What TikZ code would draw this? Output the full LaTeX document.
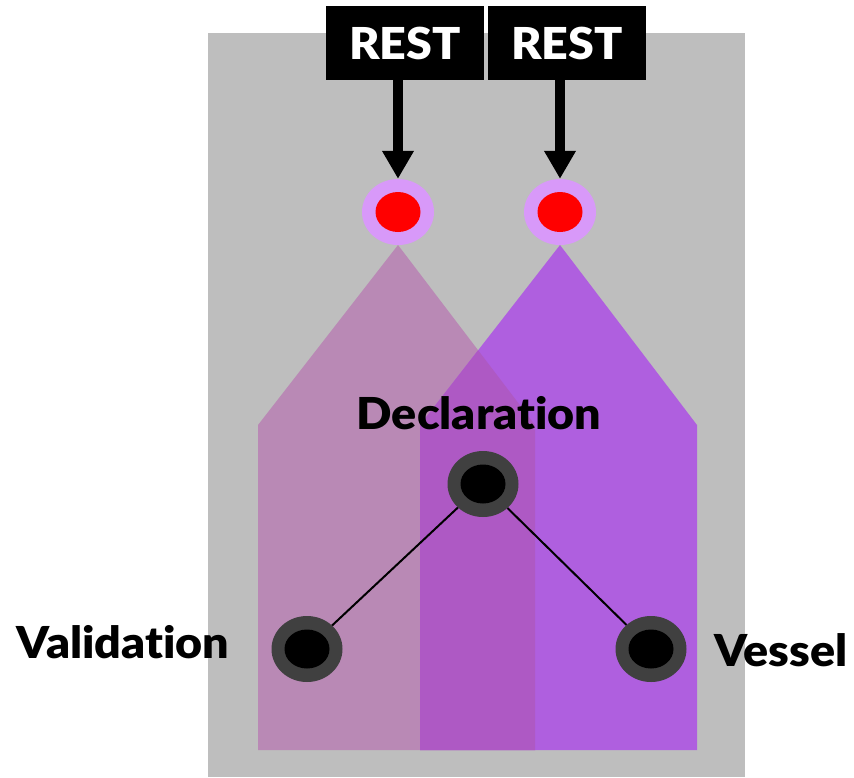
\documentclass[tikz,border=0pt]{standalone}
\usepackage{fontspec}
\newfontfamily\heavyfont{Lato Black}[Ligatures={NoCommon,NoRare},FakeStretch=1.06]
\usetikzlibrary{shapes.geometric,arrows.meta}

\definecolor{bggray}{HTML}{BEBEBE}
\definecolor{mauve}{HTML}{B989B5}
\definecolor{violet}{HTML}{AF5FDF}
\definecolor{overlap}{HTML}{AE59C4}
\definecolor{lilac}{HTML}{D899F9}
\definecolor{ringgray}{HTML}{404040}

\begin{document}
\begin{tikzpicture}[x=1pt,y=-1pt,
  restbox/.style={fill=black,text=white,minimum width=158pt,minimum height=74pt,font=\heavyfont\fontsize{44}{50}\selectfont},
  port/.style={ellipse,fill=lilac,minimum width=72pt,minimum height=66pt,inner sep=0pt},
  portdot/.style={ellipse,fill=red,minimum width=45pt,minimum height=40pt,inner sep=0pt},
  ring/.style={ellipse,fill=ringgray,minimum width=71pt,minimum height=66pt,inner sep=0pt},
  ringdot/.style={ellipse,fill=black,minimum width=45pt,minimum height=39pt,inner sep=0pt},
  lbl/.style={anchor=base,font=\heavyfont\fontsize{44}{50}\selectfont}]
  \useasboundingbox (0,0) rectangle (854,777);

  % Frame
  \fill[bggray] (208,33) rectangle (745,777);

  % Houses
  \fill[mauve] (258,425) -- (398,245) -- (535,425) -- (535,750) -- (258,750) -- cycle;
  \fill[violet] (420,425) -- (560,245) -- (697,425) -- (697,750) -- (420,750) -- cycle;
  \begin{scope}
    \clip (258,425) -- (398,245) -- (535,425) -- (535,750) -- (258,750) -- cycle;
    \fill[overlap] (420,425) -- (560,245) -- (697,425) -- (697,750) -- (420,750) -- cycle;
  \end{scope}

  % REST entry points
  \node[restbox] (rest1) at (405,43) {REST};
  \node[restbox] (rest2) at (567,43) {REST};
  \node[port] (in1) at (398,212) {};
  \node[port] (in2) at (560,212) {};
  \node[portdot] at (in1.center) {};
  \node[portdot] at (in2.center) {};
  \draw[line width=10pt,-{Triangle[width=30pt,length=28pt]}] (rest1.south -| in1) -- (in1.north);
  \draw[line width=10pt,-{Triangle[width=30pt,length=28pt]}] (rest2.south -| in2) -- (in2.north);

  % Components
  \node[ring] (decl) at (483,484) {};
  \node[ring] (valid) at (307,649) {};
  \node[ring] (vessel) at (651,649) {};
  \node[ringdot] at (decl.center) {};
  \node[ringdot] at (valid.center) {};
  \node[ringdot] at (vessel.center) {};
  \draw[line width=2pt] (decl) -- (valid);
  \draw[line width=2pt] (decl) -- (vessel);

  % Labels
  \node[lbl] (decllbl) at (479,429) {Declaration};
  \node[lbl] (validlbl) at (123,658) {Validation};
  \node[lbl] (vessellbl) at (781,666) {Vessel};
\end{tikzpicture}
\end{document}
